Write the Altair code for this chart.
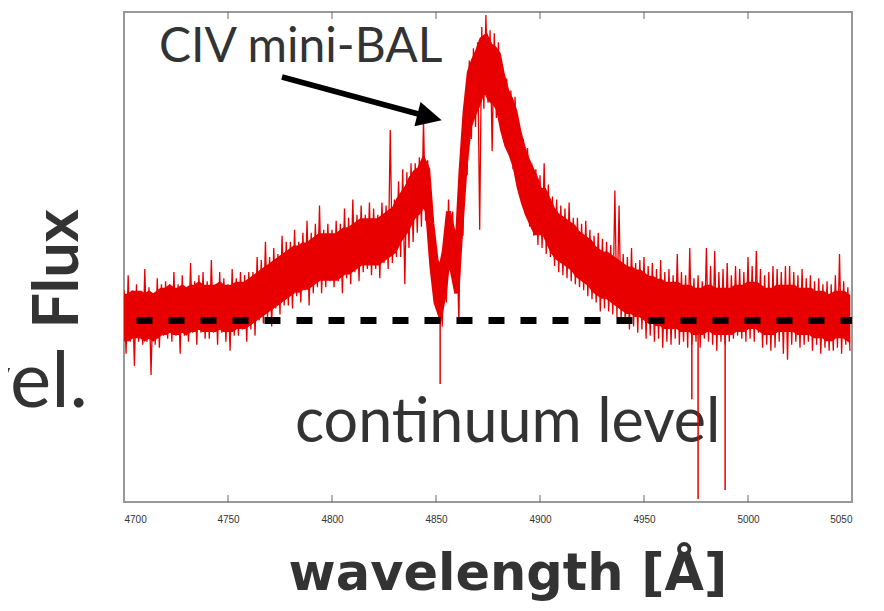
import altair as alt
import pandas as pd

# ---- data (flux normalised so continuum = 100) ----
wave = list(range(4700, 5050, 2))

# noise extremes (spiky outer envelope)
flux_hi = [110,115,110,112,109,117,111,109,114,112,
           113,112,116,112,115,111,119,113,115,116,
           113,120,112,116,114,112,117,114,116,115,
           116,116,121,120,126,121,124,122,128,126,
           126,130,126,129,133,129,132,138,130,132,
           130,133,132,137,134,140,135,138,135,139,
           137,135,139,138,163,140,146,150,149,152,
           152,154,166,153,138,124,119,126,140,136,
           128,150,170,186,190,192,197,201,196,195,
           192,184,180,176,174,165,160,157,152,150,
           148,152,145,141,140,138,137,139,134,134,
           132,133,130,128,129,127,126,125,143,138,
           122,121,124,119,120,121,118,119,117,120,
           116,117,115,122,116,115,124,114,115,113,
           124,118,123,116,117,119,115,118,117,116,
           121,118,123,117,115,116,118,117,116,118,
           118,116,115,117,114,115,113,114,112,113,
           112,115,122,113,111]
flux_lo = [89,93,85,93,92,93,82,92,91,95,
           94,93,95,89,95,93,96,92,96,94,
           94,96,92,96,93,90,95,95,97,93,
           97,95,100,99,101,98,104,102,105,105,
           104,108,106,110,105,109,111,109,111,113,
           111,113,109,114,112,116,113,116,117,115,
           117,114,119,117,119,121,121,112,124,126,
           129,131,133,131,112,102,98,106,118,110,
           99,128,148,160,164,130,170,172,156,167,
           167,160,155,150,147,141,135,131,128,125,
           124,122,121,118,116,115,114,113,112,111,
           110,108,107,106,103,104,103,102,101,100,
           99,97,98,96,97,94,95,93,94,91,
           93,92,94,92,93,91,92,93,91,94,
           93,92,90,93,92,93,94,95,94,93,
           94,93,96,91,92,90,91,93,89,87,
           92,93,91,92,93,90,92,89,91,90,
           90,91,89,92,90]

# solid core of the noisy spectrum
core_hi = [108,108,109,109,109,108,109,108,109,110,
           110,111,110,110,111,110,111,111,112,111,
           111,111,111,112,111,111,111,112,112,112,
           113,114,115,116,117,118,119,120,121,122,
           123,124,124,125,125,126,127,128,128,128,
           128,128,129,130,130,131,132,133,133,133,
           133,133,134,135,136,137,140,142,144,147,
           149,150,153,150,132,120,116,123,136,130,
           123,149,169,182,186,189,193,194,191,190,
           188,181,176,173,169,162,157,153,150,147,
           143,143,140,137,135,134,133,132,131,129,
           128,127,126,124,123,122,122,121,120,119,
           118,117,117,116,116,115,114,114,113,113,
           112,112,112,112,111,111,111,110,110,110,
           111,111,110,110,110,110,110,111,111,111,
           112,112,112,111,110,110,110,111,111,111,
           111,111,110,110,110,110,109,109,109,108,
           108,109,109,109,108]
core_lo = [94,94,95,95,95,94,95,94,95,96,
           96,97,96,96,97,96,97,97,98,97,
           97,97,97,98,97,97,97,98,98,98,
           99,100,101,102,103,104,105,106,107,108,
           109,110,110,111,111,112,113,114,114,114,
           114,114,115,116,116,117,118,119,119,119,
           119,119,120,121,122,123,126,128,130,133,
           135,136,139,136,118,106,102,109,122,116,
           109,131,151,164,168,171,175,176,173,172,
           170,163,158,155,151,144,139,135,132,129,
           129,129,126,123,121,120,119,118,117,115,
           114,113,112,110,109,108,108,107,106,105,
           104,103,103,102,102,101,100,100,99,99,
           98,98,98,98,97,97,97,96,96,96,
           97,97,96,96,96,96,96,97,97,97,
           98,98,98,97,96,96,96,97,97,97,
           97,97,96,96,96,96,95,95,95,94,
           94,95,95,95,94]

# narrow absorption lines
abs_wave = [4852, 4973, 4976, 4989]
abs_top = [108, 104, 104, 103]
abs_bottom = [79, 74, 41, 44]

continuum_level = [100]
continuum_start = [4706]
continuum_end = [5050]

tick_values = [4700, 4750, 4800, 4850, 4900, 4950, 5000, 5050]
inner_ticks = [4750, 4800, 4850, 4900, 4950, 5000]

# ---- build tables ----
rows = []
for i, w in enumerate(wave):
    rows.append({"wave": w, "flux": flux_hi[i], "order": 2 * i})
    rows.append({"wave": w + 1, "flux": flux_lo[i], "order": 2 * i + 1})
spec = pd.DataFrame(rows)
core = pd.DataFrame({"wave": wave, "hi": core_hi, "lo": core_lo})
absl = pd.DataFrame({"wave": abs_wave, "top": abs_top, "bottom": abs_bottom})
cont = pd.DataFrame({"x": continuum_start, "x2": continuum_end, "y": continuum_level})
ticks = pd.DataFrame({"tick": inner_ticks})

FONT = "Lato"
TXT = "#333333"
RED = "#e80000"

xs = alt.Scale(domain=[4700, 5050], nice=False)
ys = alt.Scale(domain=[40, 202], nice=False, zero=False)

one = pd.DataFrame({"a": [0]})

cont_text = alt.Chart(pd.DataFrame({"t": ["continuum level"]})).mark_text(
    font=FONT, fontSize=61, color=TXT, align="left", baseline="alphabetic"
).encode(x=alt.value(171), y=alt.value(430), text="t:N")

core_area = alt.Chart(core).mark_area(color=RED, stroke=RED, strokeWidth=5,
                                      clip=True, opacity=1).encode(
    x=alt.X("wave:Q", scale=xs,
            axis=alt.Axis(values=tick_values, format="d", ticks=False, domain=False,
                          grid=False, labelFontSize=10, labelFont="Liberation Sans",
                          labelColor="#333", labelPadding=12, title=None)),
    y=alt.Y("lo:Q", scale=ys, axis=None),
    y2="hi:Q",
)

spectrum = alt.Chart(spec).mark_line(color=RED, strokeWidth=1.3, clip=True).encode(
    x=alt.X("wave:Q", scale=xs),
    y=alt.Y("flux:Q", scale=ys),
    order="order:Q",
)

abs_lines = alt.Chart(absl).mark_rule(color=RED, strokeWidth=1.5, clip=True).encode(
    x=alt.X("wave:Q", scale=xs), y=alt.Y("top:Q", scale=ys), y2="bottom:Q"
)

dashed = alt.Chart(cont).mark_rule(color="black", strokeWidth=7, strokeDash=[16, 16],
                                    strokeCap="butt").encode(
    x=alt.X("x:Q", scale=xs), x2="x2:Q", y=alt.Y("y:Q", scale=ys)
)

shaft = alt.Chart(one).mark_rule(color="black", strokeWidth=5.5, strokeCap="butt").encode(
    x=alt.value(158), y=alt.value(65), x2=alt.value(298), y2=alt.value(103)
)
head = alt.Chart(one).mark_point(shape="M -1 -1 L 1 0 L -1 1 Z", size=625, angle=14,
                                 filled=True, color="black", opacity=1, strokeWidth=0).encode(
    x=alt.value(305.6), y=alt.value(105.2)
)

civ_text = alt.Chart(pd.DataFrame({"t": ["CIV mini-BAL"]})).mark_text(
    font=FONT, fontSize=48, color=TXT, align="left", baseline="alphabetic"
).encode(x=alt.value(35), y=alt.value(50), text="t:N")

flux_text = alt.Chart(pd.DataFrame({"t": ["Flux"]})).mark_text(
    font=FONT, fontSize=63, fontWeight="bold", color=TXT, align="center",
    baseline="alphabetic", angle=270
).encode(x=alt.value(-46), y=alt.value(257), text="t:N")

vel_text = alt.Chart(pd.DataFrame({"t": ["vel."]})).mark_text(
    font=FONT, fontSize=78, color=TXT, align="right", baseline="alphabetic"
).encode(x=alt.value(-36), y=alt.value(395), text="t:N")

xlabel = alt.Chart(pd.DataFrame({"t": ["wavelength [Å]"]})).mark_text(
    font="DejaVu Sans", fontSize=51, fontWeight="bold", color=TXT, align="center",
    baseline="alphabetic"
).encode(x=alt.value(384), y=alt.value(578), text="t:N")

tick_bottom = alt.Chart(ticks).mark_rule(color="#666", strokeWidth=1).encode(
    x=alt.X("tick:Q", scale=xs), y=alt.value(483), y2=alt.value(490)
)
tick_top = alt.Chart(ticks).mark_rule(color="#666", strokeWidth=1).encode(
    x=alt.X("tick:Q", scale=xs), y=alt.value(0), y2=alt.value(7)
)

chart = alt.layer(
    cont_text, core_area, spectrum, abs_lines, dashed, shaft, head, civ_text,
    flux_text, vel_text, xlabel, tick_bottom, tick_top
).properties(
    width=728, height=490,
    autosize=alt.AutoSizeParams(type="none"),
    padding={"left": 116, "top": 4, "right": 24, "bottom": 101},
).configure_view(stroke="#999999", strokeWidth=2)

chart.save("out.html", embed_options={"renderer": "svg", "actions": False})
